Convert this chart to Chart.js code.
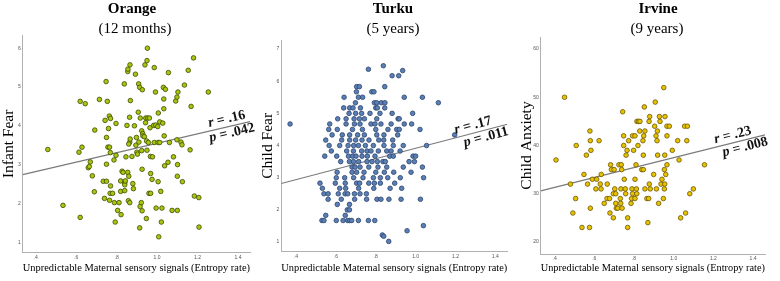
<!DOCTYPE html>
<html>
<head>
<meta charset="utf-8">
<script src="https://cdn.jsdelivr.net/npm/chart.js@4.4.1/dist/chart.umd.min.js"></script>
<style>
  body { margin: 0; background: #fff; }
  #wrap { position: relative; width: 780px; height: 281px; overflow: hidden; }
  .panel { position: absolute; top: 0; width: 260px; height: 281px; }
  .ttl { position: absolute; width: 200px; text-align: center; white-space: nowrap;
         font-family: "Liberation Serif", "Times New Roman", serif; font-size: 15px; line-height: 18px; color: #000; }
  .ttl.b { font-weight: bold; }
</style>
</head>
<body>
<div id="wrap">
  <div class="panel" style="left:0"><canvas id="c1" width="260" height="281"></canvas></div>
  <div class="panel" style="left:260px"><canvas id="c2" width="260" height="281"></canvas></div>
  <div class="panel" style="left:520px"><canvas id="c3" width="260" height="281"></canvas></div>

  <div class="ttl b" style="left:32px;top:-1px">Orange</div>
  <div class="ttl" style="left:35px;top:19px">(12 months)</div>
  <div class="ttl b" style="left:293px;top:-1px">Turku</div>
  <div class="ttl" style="left:293px;top:19px">(5 years)</div>
  <div class="ttl b" style="left:558px;top:-1px">Irvine</div>
  <div class="ttl" style="left:557px;top:19px">(9 years)</div>
</div>

<script>
// shared x axis
const xTitle = 'Unpredictable Maternal sensory signals (Entropy rate)';
const xTicks = [0.4, 0.6, 0.8, 1.0, 1.2, 1.4];

// Orange (12 months) - infant fear
const orangeYTicks = [1, 2, 3, 4, 5, 6];
const orangePts = [
  [0.46,3.39],[0.535,1.95],[0.62,4.63],[0.645,4.57],[0.62,1.64],[0.614,3.32],[0.629,3.45],[0.715,4.68],
  [0.692,3.89],[0.66,2.92],[0.665,2.95],[0.67,3.07],[0.68,2.71],[0.69,2.30],[0.748,5.14],[0.754,4.63],
  [0.743,4.14],[0.764,4.25],[0.77,4.19],[0.76,3.93],[0.75,3.70],[0.757,3.45],[0.765,3.45],[0.769,3.31],
  [0.75,3.01],[0.787,3.12],[0.734,2.57],[0.75,2.57],[0.77,2.45],[0.768,2.26],[0.78,2.26],[0.74,2.13],
  [0.765,2.08],[0.789,2.02],[0.797,3.24],[0.797,4.06],[0.793,1.52],[0.805,1.82],[0.812,2.02],[0.822,1.71],
  [0.82,2.58],[0.82,2.31],[0.827,2.83],[0.832,2.80],[0.838,5.08],[0.855,5.40],[0.856,5.46],[0.866,5.57],
  [0.846,3.20],[0.84,2.53],[0.84,2.48],[0.84,2.33],[0.851,4.01],[0.864,4.22],[0.865,3.58],[0.86,3.53],
  [0.867,3.66],[0.868,4.65],[0.855,2.80],[0.86,2.70],[0.858,2.07],[0.865,2.02],[0.843,2.58],[0.88,2.51],
  [0.876,3.21],[0.888,4.00],[0.893,5.33],[0.898,3.70],[0.895,3.50],[0.90,3.32],[0.903,3.27],[0.883,2.38],
  [0.916,1.92],[0.926,1.81],[0.922,2.02],[0.914,1.37],[0.909,5.08],[0.914,4.99],[0.927,4.93],[0.907,4.35],
  [0.917,4.20],[0.924,3.87],[0.929,3.80],[0.93,3.74],[0.937,3.72],[0.924,3.36],[0.926,2.88],[0.91,3.58],
  [0.94,5.57],[0.95,5.68],[0.952,6.0],[0.948,3.61],[0.95,3.37],[0.944,4.20],[0.953,4.20],[0.962,4.20],
  [0.965,3.95],[0.957,3.57],[0.943,4.08],[0.968,2.77],[0.975,2.62],[0.96,2.26],[0.968,2.26],[0.947,1.61],
  [0.967,3.21],[0.977,3.20],[0.983,4.01],[0.993,4.02],[0.986,5.50],[0.992,4.87],[0.986,3.57],[1.003,3.98],
  [0.995,1.88],[1.006,4.33],[1.005,3.57],[1.005,2.56],[1.008,1.14],[1.013,4.10],[1.013,3.57],[1.018,2.31],
  [1.021,1.52],[1.024,1.88],[1.028,4.07],[1.033,4.69],[1.033,4.44],[1.031,4.99],[1.035,3.74],[1.037,2.97],
  [1.041,4.94],[1.056,5.37],[1.054,3.06],[1.061,3.57],[1.074,1.82],[1.081,3.20],[1.092,4.64],[1.098,4.74],
  [1.103,4.87],[1.098,3.64],[1.101,3.00],[1.10,2.70],[1.10,1.82],[1.118,3.58],[1.123,3.51],[1.125,2.56],
  [1.135,5.05],[1.154,5.43],[1.163,3.38],[1.168,4.50],[1.18,5.75],[1.184,2.19],[1.206,2.15],[1.207,1.39],
  [1.253,4.87]
];
const orangeFit = [[0.336, 2.74], [1.459, 4.11]];
const orangeStats = ['.16', '.042'];

// Turku (5 years) - child fear
const turkuYTicks = [1, 2, 3, 4, 5, 6, 7];
const turkuPts = [
  [0.37,4.67],
  [0.53,1.67],[0.54,1.67],[0.602,1.67],[0.636,1.67],[0.659,1.67],[0.669,1.67],[0.679,1.67],[0.713,1.67],[0.763,1.67],[0.795,1.67],
  [0.549,1.83],[0.647,1.83],
  [0.657,2.0],[0.668,2.0],
  [0.607,2.17],[0.668,2.17],
  [0.561,2.33],[0.627,2.33],[0.694,2.33],[0.754,2.33],[0.806,2.33],[0.826,2.33],[0.866,2.33],[0.927,2.33],[1.024,2.33],
  [0.54,2.5],[0.561,2.5],[0.612,2.5],[0.646,2.5],[0.659,2.5],[0.693,2.5],[0.721,2.5],[0.753,2.5],
  [0.532,2.67],[0.619,2.67],[0.649,2.67],[0.714,2.67],[0.79,2.67],[0.872,2.67],[0.93,2.67],
  [0.52,2.83],[0.597,2.83],[0.647,2.83],[0.704,2.83],[0.719,2.83],[0.765,2.83],[0.793,2.83],[0.823,2.83],[0.895,2.83],
  [0.602,3.0],[0.644,3.0],[0.689,3.0],[0.736,3.0],[0.788,3.0],[0.823,3.0],[0.86,3.0],[0.923,3.0],[1.04,3.0],
  [0.606,3.17],[0.681,3.17],[0.704,3.17],[0.741,3.17],[0.8,3.17],[0.843,3.17],[0.89,3.17],[0.977,3.17],
  [0.681,3.33],[0.696,3.33],[0.721,3.33],[0.765,3.33],[0.811,3.33],[0.855,3.33],[0.938,3.33],[1.034,3.33],
  [0.624,3.5],[0.668,3.5],[0.688,3.5],[0.714,3.5],[0.756,3.5],[0.781,3.5],[0.808,3.5],[0.836,3.5],[0.848,3.5],[0.967,3.5],[0.994,3.5],
  [0.544,3.67],[0.604,3.67],[0.663,3.67],[0.684,3.67],[0.701,3.67],[0.731,3.67],[0.758,3.67],[0.796,3.67],[0.87,3.67],[0.888,3.67],[0.987,3.67],[1.0,3.67],
  [0.577,3.83],[0.654,3.83],[0.688,3.83],[0.729,3.83],[0.756,3.83],[0.776,3.83],[0.813,3.83],[0.855,3.83],[0.877,3.83],[0.922,3.83],
  [0.566,4.0],[0.619,4.0],[0.661,4.0],[0.689,4.0],[0.713,4.0],[0.748,4.0],[0.788,4.0],[0.841,4.0],[0.888,4.0],[0.938,4.0],[1.055,4.0],
  [0.549,4.17],[0.629,4.17],[0.669,4.17],[0.699,4.17],[0.731,4.17],[0.766,4.17],[0.815,4.17],[0.84,4.17],[0.885,4.17],
  [0.581,4.33],[0.632,4.33],[0.669,4.33],[0.709,4.33],[0.743,4.33],[0.805,4.33],[0.841,4.33],[0.91,4.33],[1.196,4.33],
  [0.564,4.5],[0.607,4.5],[0.683,4.5],[0.733,4.5],[0.8,4.5],[0.861,4.5],[0.905,4.5],[0.918,4.5],[1.022,4.5],
  [0.569,4.67],[0.651,4.67],[0.693,4.67],[0.721,4.67],[0.776,4.67],[0.796,4.67],[0.826,4.67],[0.877,4.67],[0.943,4.67],[0.98,4.67],
  [0.609,4.83],[0.651,4.83],[0.691,4.83],[0.718,4.83],[0.743,4.83],[0.805,4.83],[0.912,4.83],[0.918,4.83],
  [0.666,5.0],[0.699,5.0],[0.729,5.0],[0.771,5.0],[0.821,5.0],[0.882,5.0],[0.985,5.0],
  [0.639,5.17],[0.669,5.17],[0.686,5.17],[0.723,5.17],[0.8,5.17],[0.808,5.17],[0.845,5.17],
  [0.698,5.33],[0.793,5.33],[0.805,5.33],[0.828,5.33],[0.846,5.33],[1.114,5.33],
  [0.641,5.5],[0.713,5.5],[0.734,5.5],[0.943,5.5],[1.034,5.5],
  [0.703,5.67],[0.78,5.67],[0.791,5.67],
  [0.704,5.83],[0.718,5.83],[0.845,5.83],
  [0.882,6.17],[0.915,6.17],[0.935,6.33],[0.763,6.37],[0.838,6.48],
  [0.957,1.35],[1.039,1.51],[0.833,1.22],[0.84,1.18],[0.865,1.02]
];
const turkuFit = [[0.326, 2.82], [1.46, 4.66]];
const turkuStats = ['.17', '.011'];

// Irvine (9 years) - child anxiety
const irvineYTicks = [20, 30, 40, 50, 60];
const irvinePts = [
  [0.407,37],[0.45,50],[0.48,32],[0.492,26],[0.506,29],[0.509,40],[0.538,23],[0.548,34],[0.56,38],[0.566,32],
  [0.576,23],[0.58,27],[0.578,43],[0.58,41],[0.583,39],[0.59,33],[0.612,33],[0.608,31],[0.624,41],[0.63,32],
  [0.635,34],[0.634,31],[0.65,28],[0.664,29],[0.665,32],[0.677,29],[0.679,26],[0.682,36],[0.686,35],[0.696,30],
  [0.70,35],[0.696,25],[0.703,31],[0.708,28],[0.711,27],[0.718,27],[0.708,30],[0.724,36],[0.733,28],[0.734,31],
  [0.731,29],[0.736,36],[0.738,35],[0.74,27],[0.743,47],[0.748,42],[0.748,40],[0.751,33],[0.756,31],[0.758,30],
  [0.76,38],[0.765,39],[0.768,25],[0.768,23],[0.773,41],[0.785,28],[0.788,29],[0.79,31],[0.793,30],[0.793,42],
  [0.805,42],[0.798,39],[0.805,29],[0.805,33],[0.81,36],[0.812,31],[0.814,30],[0.815,45],[0.822,45],[0.83,45],
  [0.82,40],[0.829,43],[0.839,35],[0.847,35],[0.845,41],[0.849,42],[0.847,38],[0.852,48],[0.855,31],[0.855,43],
  [0.865,29],[0.874,29],[0.87,24],[0.876,45],[0.879,46],[0.877,32],[0.882,31],[0.899,34],[0.904,44],[0.907,49],
  [0.911,42],[0.916,41],[0.913,31],[0.918,43],[0.919,38],[0.924,28],[0.928,46],[0.931,45],[0.936,32],[0.941,33],
  [0.948,29],[0.95,52],[0.953,31],[0.955,32],[0.955,38],[0.953,35],[0.96,34],[0.966,36],[0.956,46],[0.966,44],
  [0.966,42],[0.978,44],[0.993,39],[1.02,41],[1.027,37],[1.035,25],[1.06,26],[1.055,44],[1.069,44],[1.066,41],
  [1.081,30],[1.099,31],[1.155,36]
];
const irvineFit = [[0.33, 30.6], [1.46, 42.2]];
const irvineStats = ['.23', '.008'];

// draws the r / p labels along the regression line
const corrLabels = {
  id: 'corrLabels',
  afterDatasetsDraw(chart, args, opts) {
    if (!opts.fit) return;
    const { ctx, chartArea, scales } = chart;
    const f = opts.fit;
    const x1 = scales.x.getPixelForValue(f[0][0]), y1 = scales.y.getPixelForValue(f[0][1]);
    const x2 = scales.x.getPixelForValue(f[1][0]), y2 = scales.y.getPixelForValue(f[1][1]);
    const ang = Math.atan2(y2 - y1, x2 - x1);
    const put = (sym, val, shift, dy, base) => {
      const px = chartArea.right + shift;
      const py = y1 + (y2 - y1) * (px - x1) / (x2 - x1);
      ctx.save();
      ctx.translate(px, py);
      ctx.rotate(ang);
      ctx.fillStyle = '#111';
      ctx.textAlign = 'right';
      ctx.textBaseline = base;
      ctx.font = 'bold 14px "Liberation Serif"';
      const rest = ' = ' + val;
      const w = ctx.measureText(rest).width;
      ctx.fillText(rest, 0, dy);
      ctx.font = 'italic bold 14px "Liberation Serif"';
      ctx.fillText(sym, -w, dy);
      ctx.restore();
    };
    put('r', opts.r, opts.rShift, -4, 'alphabetic');
    put('p', opts.p, opts.pShift, 0, 'top');
  }
};

function fmtX(v) {
  const s = v.toFixed(1);
  return v < 1 ? s.slice(1) : s;
}

function makePanel(id, c) {
  new Chart(document.getElementById(id), {
    type: 'scatter',
    data: {
      datasets: [
        {
          data: c.pts.map(p => ({ x: p[0], y: p[1] })),
          backgroundColor: c.fill,
          borderColor: c.edge,
          borderWidth: 0.8,
          pointRadius: 2.3
        },
        {
          data: c.fit.map(p => ({ x: p[0], y: p[1] })),
          showLine: true,
          pointRadius: 0,
          borderColor: '#7a7a7a',
          borderWidth: 1.2
        }
      ]
    },
    options: {
      responsive: false,
      animation: false,
      events: [],
      layout: { padding: { top: c.top, right: c.padRight, left: 0, bottom: 0 } },
      plugins: {
        legend: { display: false },
        tooltip: { enabled: false },
        corrLabels: { fit: c.fit, r: c.stats[0], p: c.stats[1], rShift: c.rShift, pShift: c.pShift }
      },
      scales: {
        x: {
          type: 'linear',
          min: c.xMin, max: c.xMax,
          afterBuildTicks: s => { s.ticks = xTicks.map(v => ({ value: v })); },
          afterFit: s => { s.height = c.xAxisH; },
          grid: { display: false, drawTicks: false },
          border: { color: '#b0b0b0', width: 1 },
          ticks: { font: { size: 5, family: 'Liberation Sans' }, color: '#555', padding: 2,
                   maxRotation: 0, autoSkip: false, callback: v => fmtX(v) },
          title: { display: true, text: xTitle, color: '#000',
                   font: { family: 'Liberation Serif', size: 11 }, padding: { top: 0, bottom: 6 } }
        },
        y: {
          type: 'linear',
          min: c.yMin, max: c.yMax,
          afterBuildTicks: s => { s.ticks = c.yTicks.map(v => ({ value: v })); },
          afterFit: s => { s.width = c.yAxisW; },
          grid: { display: false, drawTicks: false },
          border: { color: '#b0b0b0', width: 1 },
          ticks: { font: { size: 5, family: 'Liberation Sans' }, color: '#555', padding: 2,
                   autoSkip: false, callback: v => String(v) },
          title: { display: true, text: c.yTitle, color: '#000',
                   font: { family: 'Liberation Serif', size: 15.5, lineHeight: 1 },
                   padding: { top: c.yTitlePad, bottom: 0 } }
        }
      }
    },
    plugins: [corrLabels]
  });
}

makePanel('c1', {
  pts: orangePts, fit: orangeFit, stats: orangeStats, yTicks: orangeYTicks, yTitle: 'Infant Fear',
  fill: '#a6c60f', edge: '#3e4b00',
  xMin: 0.336, xMax: 1.459, yMin: 0.73, yMax: 6.34,
  top: 35, padRight: 10, yAxisW: 22.7, xAxisH: 28.3, yTitlePad: 1.5, rShift: -3, pShift: 3
});
makePanel('c2', {
  pts: turkuPts, fit: turkuFit, stats: turkuStats, yTicks: turkuYTicks, yTitle: 'Child Fear',
  fill: '#5b7fb3', edge: '#2b4470',
  xMin: 0.326, xMax: 1.46, yMin: 0.70, yMax: 7.28,
  top: 40, padRight: 12.7, yAxisW: 21.3, xAxisH: 29.3, yTitlePad: 0, rShift: -14, pShift: -1
});
makePanel('c3', {
  pts: irvinePts, fit: irvineFit, stats: irvineStats, yTicks: irvineYTicks, yTitle: 'Child Anxiety',
  fill: '#e6c300', edge: '#6d5600',
  xMin: 0.33, xMax: 1.46, yMin: 17.5, yMax: 62.5,
  top: 37, padRight: 15, yAxisW: 20.7, xAxisH: 27, yTitlePad: -1, rShift: -12, pShift: 1
});
</script>
</body>
</html>
